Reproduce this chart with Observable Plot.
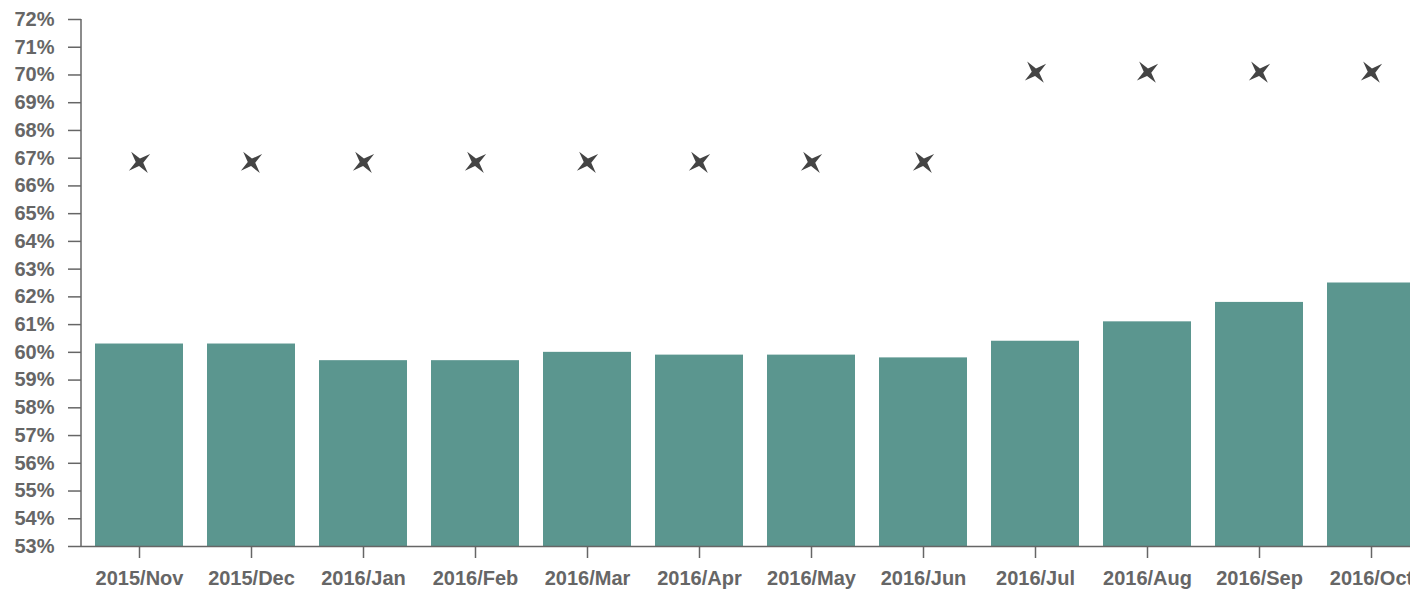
<!DOCTYPE html>
<html>
<head>
<meta charset="utf-8">
<script src="https://cdn.jsdelivr.net/npm/d3@7"></script>
<script src="https://cdn.jsdelivr.net/npm/@observablehq/plot@0.6"></script>
<style>
  html, body { margin: 0; padding: 0; background: #fff; overflow: hidden; width: 1410px; height: 595px; }
  #chart svg { max-width: none !important; display: block; }
</style>
</head>
<body>
<div id="chart"></div>
<script>
const months = ["2015/Nov","2015/Dec","2016/Jan","2016/Feb","2016/Mar","2016/Apr","2016/May","2016/Jun","2016/Jul","2016/Aug","2016/Sep","2016/Oct"];
const actual = [60.3, 60.3, 59.7, 59.7, 60.0, 59.9, 59.9, 59.8, 60.4, 61.1, 61.8, 62.5];
const target = [66.85, 66.85, 66.85, 66.85, 66.85, 66.85, 66.85, 66.85, 70.1, 70.1, 70.1, 70.1];
const yTicks = d3.range(53, 73);

const data = months.map((m, i) => ({month: m, actual: actual[i], target: target[i]}));

// four-pointed star, rotated like a shuriken
const star4 = {
  draw(context, size) {
    const R = Math.sqrt(size / Math.PI);
    const r = R * 0.28;
    const rot = -Math.PI / 4 + 0.12;
    for (let k = 0; k < 8; k++) {
      const a = rot + k * Math.PI / 4;
      const rad = k % 2 === 0 ? R : r;
      const px = rad * Math.cos(a), py = rad * Math.sin(a);
      if (k === 0) context.moveTo(px, py); else context.lineTo(px, py);
    }
    context.closePath();
  }
};

const leftLine = (index, scales, values, dims) => {
  const ns = "http://www.w3.org/2000/svg";
  const l = document.createElementNS(ns, "line");
  l.setAttribute("x1", dims.marginLeft);
  l.setAttribute("x2", dims.marginLeft);
  l.setAttribute("y1", scales.y(yTicks[yTicks.length - 1]));
  l.setAttribute("y2", scales.y(yTicks[0]));
  l.setAttribute("stroke", "#666");
  l.setAttribute("stroke-width", 1.5);
  return l;
};

const fontFamily = "'Liberation Sans', Arial, sans-serif";

const chart = Plot.plot({
  width: 1430,
  height: 595,
  marginLeft: 81,
  marginRight: 0,
  marginTop: 19,
  marginBottom: 49,
  style: {fontFamily, fontSize: "20px", background: "#fff", maxWidth: "none"},
  x: {domain: months, paddingInner: 0.21, paddingOuter: 0.125},
  y: {domain: [yTicks[0], yTicks[yTicks.length - 1]]},
  marks: [
    Plot.barY(data, {x: "month", y1: () => yTicks[0], y2: "actual", fill: "#5b968f"}),
    Plot.ruleY([yTicks[0]], {stroke: "#666", strokeWidth: 1.5}),
    leftLine,
    Plot.axisY({ticks: yTicks, tickFormat: d => d + "%", tickSize: 13, tickPadding: 14, stroke: "#666", strokeWidth: 1.5, fill: "#666", fontWeight: "bold", fontSize: 20, label: null}),
    Plot.axisX({tickSize: 12, tickPadding: 12, stroke: "#666", strokeWidth: 1.5, fill: "#666", fontWeight: "bold", fontSize: 20, label: null}),
    Plot.dot(data, {x: "month", y: "target", symbol: star4, r: 13.5, fill: "#444", stroke: "none"})
  ]
});
document.getElementById("chart").appendChild(chart);
</script>
</body>
</html>
